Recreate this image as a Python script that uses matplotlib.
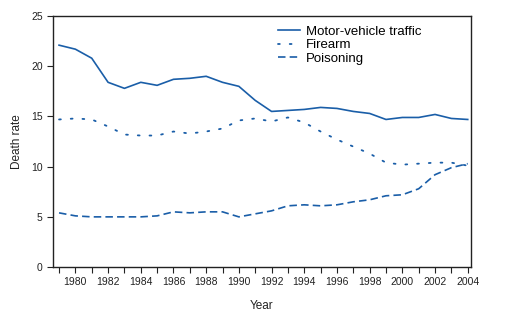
import matplotlib
matplotlib.use("Agg")
import matplotlib.pyplot as plt
import matplotlib.ticker as ticker

# ── DATA ──────────────────────────────────────────────────────────────────────
years = list(range(1979, 2005))
motor_vehicle = [22.1, 21.7, 20.8, 18.4, 17.8, 18.4, 18.1, 18.7, 18.8, 19.0,
                 18.4, 18.0, 16.6, 15.5, 15.6, 15.7, 15.9, 15.8, 15.5, 15.3,
                 14.7, 14.9, 14.9, 15.2, 14.8, 14.7]
firearm = [14.7, 14.8, 14.7, 14.0, 13.2, 13.1, 13.1, 13.5, 13.3, 13.5,
           13.8, 14.6, 14.8, 14.5, 14.9, 14.4, 13.5, 12.7, 12.0, 11.3,
           10.4, 10.2, 10.3, 10.4, 10.4, 10.1]
poisoning = [5.4, 5.1, 5.0, 5.0, 5.0, 5.0, 5.1, 5.5, 5.4, 5.5,
             5.5, 5.0, 5.3, 5.6, 6.1, 6.2, 6.1, 6.2, 6.5, 6.7,
             7.1, 7.2, 7.8, 9.2, 9.9, 10.3]
labels = ["Motor-vehicle traffic", "Firearm", "Poisoning"]

# ── STYLE ─────────────────────────────────────────────────────────────────────
plt.rcParams["font.family"] = ["Liberation Sans", "DejaVu Sans"]
c_line = "#1a5ea8"

fig = plt.figure(figsize=(5.16, 3.21), dpi=100)
ax = fig.add_axes([0.1027, 0.168, 0.8101, 0.782])

ax.plot(years, motor_vehicle, color=c_line, lw=1.2, ls="-", label=labels[0])
ax.plot(years, firearm, color=c_line, lw=1.3, ls=(0, (1.0, 5.5)),
        dash_capstyle="round", label=labels[1])
ax.plot(years, poisoning, color=c_line, lw=1.2, ls=(0, (4.5, 2.5)), label=labels[2])

ax.set_xlim(1978.63, 2004.2)
ax.set_ylim(0, 25)
ax.xaxis.set_major_locator(ticker.MultipleLocator(2, offset=0))
ax.xaxis.set_minor_locator(ticker.MultipleLocator(1))
ax.yaxis.set_major_locator(ticker.MultipleLocator(5))
ax.tick_params(axis="both", which="both", direction="out", labelsize=7.5,
               color="#222222", labelcolor="#222222")
ax.tick_params(axis="both", which="major", length=4, width=0.8)
ax.tick_params(axis="x", which="minor", length=4, width=0.8)
for s in ax.spines.values():
    s.set_linewidth(1.0)
    s.set_color("#222222")

ax.set_xlabel("Year", fontsize=8.5, labelpad=9, color="#222222")
ax.set_ylabel("Death rate", fontsize=8.5, labelpad=6, color="#222222")

ax.legend(loc="upper left", bbox_to_anchor=(0.526, 0.984), frameon=False,
          fontsize=9.5, handlelength=1.67, handletextpad=0.45,
          labelspacing=0.1, borderaxespad=0.0)

fig.savefig("out.png", dpi=100)
